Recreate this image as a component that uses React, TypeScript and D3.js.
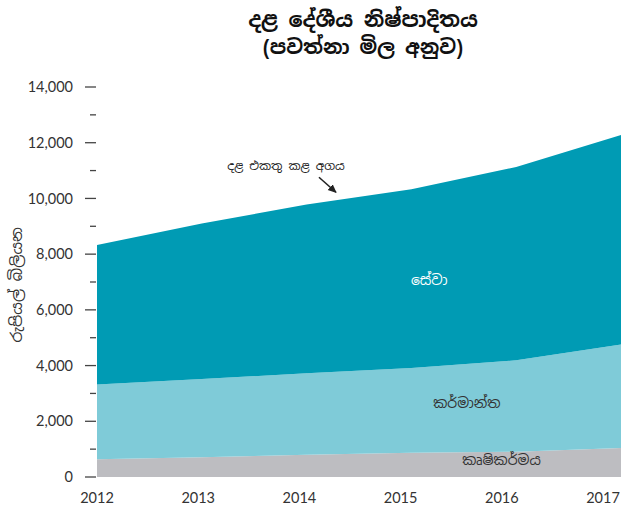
import { useMemo } from "react"
import * as d3 from "d3"

const W = 621, H = 510

const years = [2012, 2013, 2014, 2015, 2016, 2017]
const agriculture = [640, 710, 800, 870, 910, 1040]
const industry = [2680, 2810, 2920, 3040, 3280, 3720]
const services = [5010, 5580, 6060, 6420, 6940, 7520]

const seriesKeys = ["agriculture", "industry", "services"] as const
const seriesColors: Record<string, string> = {
  agriculture: "#bdbdc1",
  industry: "#7fcbd8",
  services: "#009bb4",
}

const majorTicks = [0, 2000, 4000, 6000, 8000, 10000, 12000, 14000]
const minorTicks = [1000, 3000, 5000, 7000, 9000, 11000, 13000]

const titleLines = ["දළ දේශීය නිෂ්පාදිතය", "(පවත්නා මිල අනුව)"]
const yTitle = "රුපියල් බිලියන"
const annotation = "දළ එකතු කළ අගය"
const areaLabels = [
  { key: "services", text: "සේවා", year: 2015.17, value: 6900, color: "#ffffff" },
  { key: "industry", text: "කර්මාන්ත", year: 2015.53, value: 2470, color: "#333333" },
  { key: "agriculture", text: "කෘෂිකර්මය", year: 2015.86, value: 420, color: "#333333" },
]

const FONT = "'Noto Sans Sinhala', 'Iskoola Pota', 'Lato', 'DejaVu Sans', sans-serif"
const NUM_FONT = "'Lato', 'DejaVu Sans', sans-serif"

export default function App() {
  const x = d3.scaleLinear().domain([2012, 2017]).range([97, 621])
  const xLabel = d3.scalePoint<number>().domain(years).range([97, 603])
  const y = d3.scaleLinear().domain([0, 14000]).range([477, 87])

  const layers = useMemo(() => {
    const rows = years.map((yr, i) => ({
      year: yr,
      agriculture: agriculture[i],
      industry: industry[i],
      services: services[i],
    }))
    return d3.stack<any>().keys(seriesKeys as unknown as string[])(rows)
  }, [])

  const area = d3.area<any>()
    .x(d => x(d.data.year))
    .y0(d => y(d[0]))
    .y1(d => y(d[1]))

  // arrow toward the total line, between 2014 and 2015
  const arrowYear = 2014.28
  const totalAt = (yr: number) => {
    const totals = years.map((_, i) => agriculture[i] + industry[i] + services[i])
    return d3.scaleLinear().domain(years).range(totals)(yr)
  }
  const ax = x(arrowYear), ay = y(totalAt(arrowYear)) - 8

  return (
    <div style={{ position: "absolute", left: 0, top: 0 }}>
      <svg width={W} height={H} style={{ display: "block", background: "#fff" }}>
        <defs>
          <marker id="arr" viewBox="0 0 10 10" refX={8} refY={5} markerWidth={6} markerHeight={6} orient="auto">
            <path d="M0,1 L9,5 L0,9 z" fill="#222" />
          </marker>
        </defs>

        {/* Title */}
        {titleLines.map((t, i) => (
          <text key={i} x={363} y={27 + i * 27} textAnchor="middle" fontFamily={FONT}
            fontSize={i === 0 ? 21 : 20} fontWeight={700} fill="#111">{t}</text>
        ))}

        {/* Areas */}
        {layers.map(l => (
          <path key={l.key} d={area(l) ?? ""} fill={seriesColors[l.key]} />
        ))}

        {/* Y axis ticks */}
        {majorTicks.map(t => (
          <g key={t} transform={`translate(0,${y(t)})`}>
            <line x1={85} x2={96} stroke="#444" strokeWidth={1.3} />
            <text x={73} dy="0.35em" textAnchor="end" fontFamily={NUM_FONT} fontSize={14.5} fill="#333">
              {d3.format(",")(t)}
            </text>
          </g>
        ))}
        {minorTicks.map(t => (
          <line key={t} x1={90} x2={96} y1={y(t)} y2={y(t)} stroke="#444" strokeWidth={1.3} />
        ))}

        {/* X axis labels */}
        {years.map(yr => (
          <text key={yr} x={xLabel(yr)} y={503} textAnchor="middle" fontFamily={NUM_FONT} fontSize={14.5} fill="#333">
            {yr}
          </text>
        ))}

        {/* Y title */}
        <text transform={`translate(22,${y(6900)}) rotate(-90)`} textAnchor="middle"
          fontFamily={FONT} fontSize={15.5} fill="#333">{yTitle}</text>

        {/* Annotation */}
        <text x={286} y={170} textAnchor="middle" fontFamily={FONT} fontSize={12} fill="#222">{annotation}</text>
        <line x1={ax - 17} y1={ay - 15} x2={ax} y2={ay} stroke="#222" strokeWidth={1.6} markerEnd="url(#arr)" />

        {/* Area labels */}
        {areaLabels.map(l => (
          <text key={l.key} x={x(l.year)} y={y(l.value)} textAnchor="middle" fontFamily={FONT}
            fontSize={14} fill={l.color}>{l.text}</text>
        ))}
      </svg>
    </div>
  )
}
